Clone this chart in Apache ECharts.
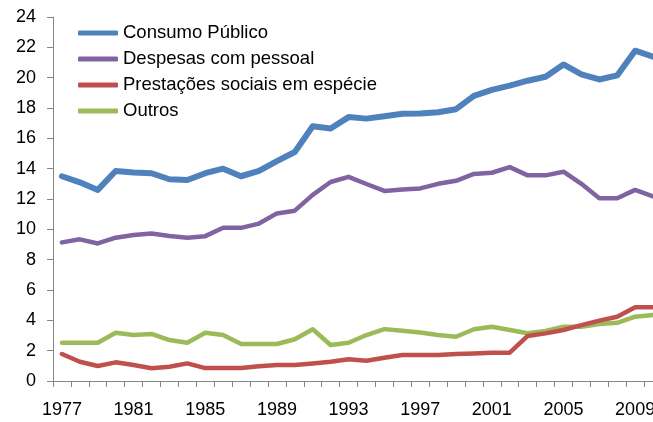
<!DOCTYPE html>
<html>
<head>
<meta charset="utf-8">
<script src="https://cdn.jsdelivr.net/npm/echarts@6/dist/echarts.min.js"></script>
<style>
  html, body { margin: 0; padding: 0; background: #ffffff; }
  #chart { width: 653px; height: 422px; }
</style>
</head>
<body>
<div id="chart"></div>
<script>
// Years on the horizontal axis
const years = ['1977','1978','1979','1980','1981','1982','1983','1984','1985','1986',
  '1987','1988','1989','1990','1991','1992','1993','1994','1995','1996',
  '1997','1998','1999','2000','2001','2002','2003','2004','2005','2006',
  '2007','2008','2009','2010'];

// Series values (% of GDP)
const consumoPublico = [13.5, 13.1, 12.6, 13.85, 13.75, 13.7, 13.3, 13.25, 13.7, 14.0,
  13.5, 13.85, 14.5, 15.1, 16.8, 16.65, 17.4, 17.3, 17.45, 17.62,
  17.63, 17.72, 17.92, 18.8, 19.2, 19.48, 19.8, 20.06, 20.87, 20.22,
  19.88, 20.15, 21.78, 21.38];

const despesasPessoal = [9.14, 9.34, 9.07, 9.45, 9.62, 9.73, 9.56, 9.45, 9.55, 10.1,
  10.1, 10.38, 11.05, 11.23, 12.27, 13.12, 13.46, 12.99, 12.53, 12.62,
  12.7, 13.0, 13.2, 13.65, 13.73, 14.1, 13.56, 13.56, 13.8, 13.0,
  12.05, 12.05, 12.6, 12.17];

const prestacoesEspecie = [1.78, 1.27, 0.99, 1.23, 1.05, 0.84, 0.94, 1.16, 0.85, 0.85,
  0.85, 0.97, 1.05, 1.05, 1.16, 1.27, 1.43, 1.34, 1.53, 1.71,
  1.71, 1.71, 1.78, 1.82, 1.87, 1.87, 2.97, 3.14, 3.36, 3.68,
  3.98, 4.24, 4.86, 4.86];

const outros = [2.52, 2.52, 2.52, 3.18, 3.03, 3.1, 2.7, 2.52, 3.18, 3.03,
  2.44, 2.44, 2.44, 2.75, 3.41, 2.37, 2.52, 3.03, 3.42, 3.32,
  3.2, 3.03, 2.92, 3.41, 3.58, 3.36, 3.15, 3.3, 3.58, 3.58,
  3.76, 3.84, 4.24, 4.35];

const seriesNames = ['Consumo Público', 'Despesas com pessoal', 'Prestações sociais em espécie', 'Outros'];
const yTicks = { min: 0, max: 24, interval: 2 };

const colors = ['#4F81BD', '#8064A2', '#C0504D', '#9BBB59'];
const widths = [6, 4.5, 4.5, 4.5];
const values = [consumoPublico, despesasPessoal, prestacoesEspecie, outros];
const font = '"Liberation Sans", Arial, sans-serif';

const chart = echarts.init(document.getElementById('chart'), null, { renderer: 'canvas' });

chart.setOption({
  animation: false,
  backgroundColor: '#ffffff',
  // plot area runs slightly past the right edge, so the last year is clipped
  grid: { left: 53, top: 17, bottom: 41, width: 609, containLabel: false, outerBoundsMode: 'none' },
  legend: {
    orient: 'vertical',
    left: 78,
    top: 23,
    padding: 0,
    itemWidth: 40,
    itemHeight: 5,
    itemGap: 6,
    icon: 'roundRect',
    textStyle: { fontFamily: font, fontSize: 18.5, color: '#000000', lineHeight: 20 },
    data: seriesNames
  },
  xAxis: {
    type: 'category',
    data: years,
    boundaryGap: true,
    axisLine: { lineStyle: { color: '#868686', width: 1 } },
    axisTick: { show: true, interval: 0, length: 6, lineStyle: { color: '#868686' } },
    axisLabel: {
      interval: 3,
      margin: 20,
      fontFamily: font,
      fontSize: 18,
      color: '#000000',
      hideOverlap: false
    },
    splitLine: { show: false }
  },
  yAxis: {
    type: 'value',
    min: yTicks.min,
    max: yTicks.max,
    interval: yTicks.interval,
    axisLine: { show: true, lineStyle: { color: '#868686', width: 1 } },
    axisTick: { show: true, length: 6, lineStyle: { color: '#868686' } },
    axisLabel: { margin: 17, fontFamily: font, fontSize: 18, color: '#000000' },
    splitLine: { show: false }
  },
  series: values.map((v, i) => ({
    name: seriesNames[i],
    type: 'line',
    data: v,
    showSymbol: false,
    symbol: 'none',
    color: colors[i],
    lineStyle: { color: colors[i], width: widths[i], join: 'round', cap: 'round' },
    z: 10 - i
  }))
});
</script>
</body>
</html>
